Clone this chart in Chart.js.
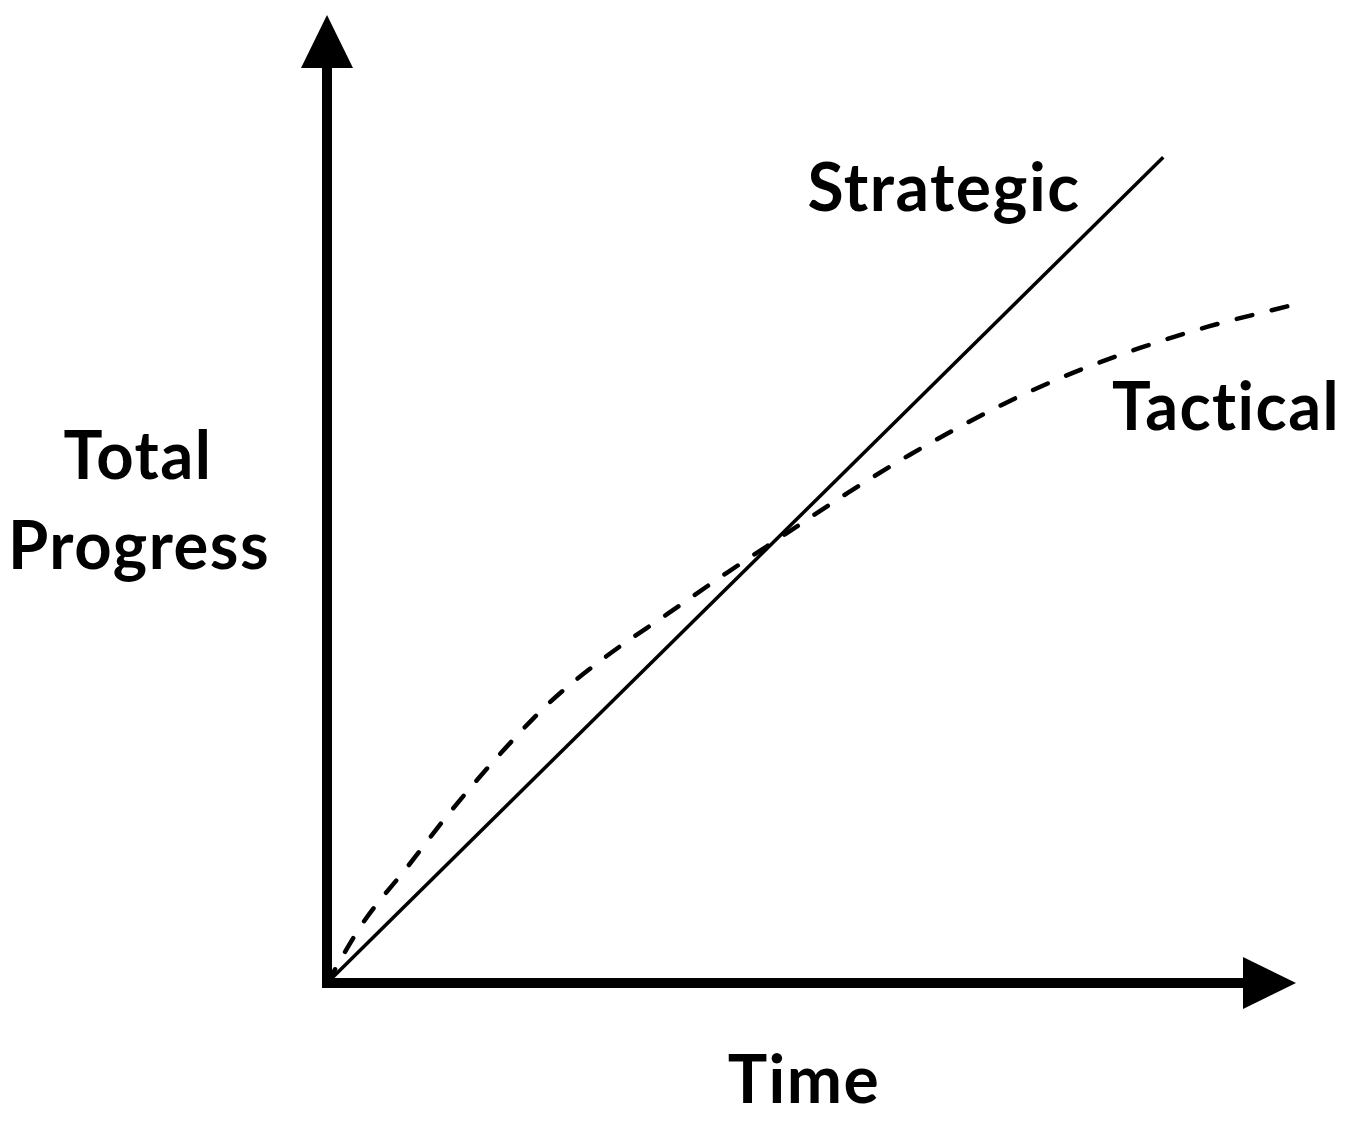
<!DOCTYPE html>
<html lang="en">
  <head>
    <meta charset="UTF-8" />
    <title>Strategic vs Tactical</title>
    <style>
      html, body { margin: 0; padding: 0; background: #fff; }
      canvas { display: block; }
    </style>
  </head>

  <body>
    <script src="https://cdn.jsdelivr.net/npm/chart.js"></script>
    <canvas id="progress-chart" width="1352" height="1123"></canvas>

    <script>
      // values, both axes on a 0-100 scale
      const strategicX = [0, 86.3]
      const strategicY = [0, 85.3]

      const tacticalX = [0, 3.7, 8.3, 12.9, 17.9, 23.0, 28.9, 35.1, 41.3, 47.5, 53.7, 60.2, 70.0, 76.9, 83.9, 90.9, 99.1]
      const tacticalY = [0, 6.2, 12.0, 17.9, 23.7, 29.0, 33.8, 38.1, 42.4, 46.5, 50.6, 54.6, 59.9, 63.0, 65.6, 67.8, 69.9]

      const seriesNames = ['Strategic', 'Tactical']
      const xTitle = 'Time'
      const yTitle = ['Total', 'Progress']

      const toPoints = (xs, ys) => xs.map((x, i) => ({ x: x, y: ys[i] }))

      const FONT = 'bold 66px Lato, "Open Sans", sans-serif'

      // axes with arrowheads, drawn from the scales
      const arrowAxes = {
        id: 'arrowAxes',
        afterDatasetsDraw(chart) {
          const ctx = chart.ctx
          const { x, y } = chart.scales
          const ox = x.getPixelForValue(0)
          const oy = y.getPixelForValue(0)
          const xEnd = x.getPixelForValue(x.max)
          const yEnd = y.getPixelForValue(y.max)
          const len = 53
          const half = 26

          ctx.save()
          ctx.fillStyle = '#000'
          ctx.strokeStyle = '#000'
          ctx.lineWidth = 10
          ctx.lineCap = 'square'
          ctx.beginPath()
          ctx.moveTo(ox, yEnd + len)
          ctx.lineTo(ox, oy)
          ctx.lineTo(xEnd - len, oy)
          ctx.stroke()

          ctx.beginPath()
          ctx.moveTo(ox, yEnd)
          ctx.lineTo(ox - half, yEnd + len)
          ctx.lineTo(ox + half, yEnd + len)
          ctx.closePath()
          ctx.fill()

          ctx.beginPath()
          ctx.moveTo(xEnd, oy)
          ctx.lineTo(xEnd - len, oy - half)
          ctx.lineTo(xEnd - len, oy + half)
          ctx.closePath()
          ctx.fill()
          ctx.restore()
        },
        afterDraw(chart) {
          const ctx = chart.ctx
          ctx.save()
          ctx.fillStyle = '#000'
          ctx.font = FONT
          ctx.letterSpacing = '1.5px' // also keeps Lato from joining "ti"
          ctx.textAlign = 'center'
          ctx.textBaseline = 'alphabetic'
          ctx.fillText(seriesNames[0], 944, 211, 274)
          ctx.fillText(seriesNames[1], 1226, 430, 228)
          ctx.fillText(xTitle, 804, 1103, 155)
          ctx.fillText(yTitle[0], 138, 479, 149)
          ctx.fillText(yTitle[1], 139, 569, 262)
          ctx.restore()
        },
      }

      new Chart(document.getElementById('progress-chart'), {
        type: 'scatter',
        data: {
          datasets: [
            {
              label: seriesNames[0],
              data: toPoints(strategicX, strategicY),
              showLine: true,
              borderColor: '#000',
              borderWidth: 3.5,
              pointRadius: 0,
            },
            {
              label: seriesNames[1],
              data: toPoints(tacticalX, tacticalY),
              showLine: true,
              borderColor: '#000',
              borderWidth: 4.5,
              borderDash: [16, 20],
              borderCapStyle: 'round',
              cubicInterpolationMode: 'monotone',
              pointRadius: 0,
            },
          ],
        },
        options: {
          responsive: false,
          animation: false,
          layout: { padding: { left: 327, right: 56, top: 15, bottom: 140 } },
          plugins: {
            legend: { display: false },
            tooltip: { enabled: false },
          },
          scales: {
            x: { type: 'linear', min: 0, max: 100, display: false },
            y: { type: 'linear', min: 0, max: 100, display: false },
          },
        },
        plugins: [arrowAxes],
      })
    </script>
  </body>
</html>
